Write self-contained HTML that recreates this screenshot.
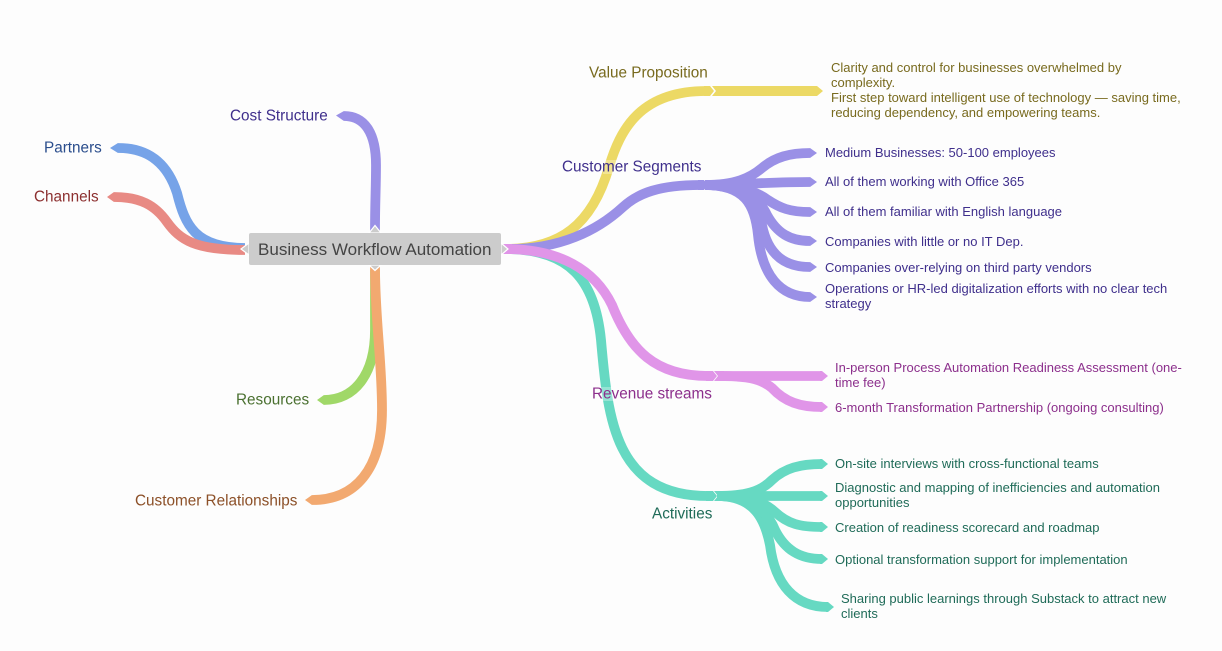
<!DOCTYPE html>
<html><head><meta charset="utf-8"><style>
html,body{margin:0;padding:0;background:#fdfdfd;width:1222px;height:651px;overflow:hidden}
svg{display:block}
text{font-family:"Liberation Sans",Arial,sans-serif}
.b{font-size:15.3px}
.l{font-size:13px}
path{fill:none;stroke-width:9.8}
</style></head><body>
<svg width="1222" height="651" viewBox="0 0 1222 651" xmlns="http://www.w3.org/2000/svg">
<rect width="1222" height="651" fill="#fdfdfd"/>
<g id="left">
<path stroke="#9a90e6" d="M375 232 C375 200 376 190 376 165 C376 132 364 116 344 116"/>
<polygon fill="#9a90e6" points="336,115.500 344,111 344,121"/>
<path stroke="#76a3e8" d="M245 248 C195 248 185 225 177 193 C168 165 150 148 118 148"/>
<polygon fill="#76a3e8" points="110,148 118,143 118,153"/>
<path stroke="#e88a84" d="M245 250 C195 250 180 240 167 222 C155 205 140 197 114 197"/>
<polygon fill="#e88a84" points="107,197 114,192 114,202"/>
<path stroke="#a0d868" d="M375 270 V330 C375 375 354 400 324 400"/>
<polygon fill="#a0d868" points="317,400 324,395 324,405"/>
<path stroke="#f2a970" d="M375 266 C375 320 382 360 382 410 C382 470 355 500 312 500"/>
<polygon fill="#f2a970" points="305,500 312,495 312,505"/>
</g>
<g id="right">
<path stroke="#ecd965" d="M505 249 C560 249 592 225 609 167 C620 130 640 91 706 91"/>
<polygon fill="#ecd965" points="704,86 710,86 714,91 710,96 704,96"/>
<polygon fill="#ecd965" points="712,86 817,86 823,91 817,96 712,96 716,91"/>
<path stroke="#66d9c2" d="M505 249 C570 249 595 280 601 340 C608 420 615 496 708 496"/>
<polygon fill="#66d9c2" points="706,491 713,491 717,496 713,501 706,501"/>
<path stroke="#9a90e6" d="M505 249 C560 250 598 230 623 207 C638 193 660 185 700 185"/>
<polygon fill="#9a90e6" points="698,180 704,180 708,185 704,190 698,190"/>
<path stroke="#e095e8" d="M505 249 C560 249 595 270 612 305 C630 350 655 376 708 376"/>
<polygon fill="#e095e8" points="706,371 713,371 717,376 713,381 706,381"/>
</g>
<g id="cs" stroke="#9a90e6">
<path d="M705 185 C745 185 755 205 758 235 C762 275 780 297 810 297"/>
<path d="M705 185 C745 185 757 205 762 225 C768 255 785 267 810 267"/>
<path d="M705 185 C745 185 760 200 767 215 C777 233 790 241 810 241"/>
<path d="M705 185 C735 185 755 190 768 200 C780 208 790 212 810 212"/>
<path d="M705 185 C730 185 770 182 810 182"/>
<path d="M705 185 C735 185 750 178 762 168 C775 157 790 153 810 153"/>
</g>
<g fill="#9a90e6">
<polygon points="705,180 714,180 714,190 705,190 709,185"/>
<polygon points="810,148 817,153 810,158"/>
<polygon points="810,177 817,182 810,187"/>
<polygon points="810,207 817,212 810,217"/>
<polygon points="810,236 817,241 810,246"/>
<polygon points="810,262 817,267 810,272"/>
<polygon points="810,292 817,297 810,302"/>
</g>
<g stroke="#e095e8">
<path d="M718 376 H822"/>
<path d="M718 376 C745 376 760 378 772 388 C785 402 800 407 822 407"/>
</g>
<g fill="#e095e8">
<polygon points="714,371 724,371 724,381 714,381 718,376"/>
<polygon points="820,371 822,371 828,376 822,381 820,381"/>
<polygon points="820,402 822,402 828,407 822,412 820,412"/>
</g>
<g stroke="#66d9c2">
<path d="M717 496 C755 496 765 520 770 545 C775 585 795 607 828 607"/>
<path d="M717 496 C750 496 767 510 775 530 C785 550 800 559 822 559"/>
<path d="M717 496 C745 496 762 500 775 512 C788 524 800 527 822 527"/>
<path d="M717 496 H822"/>
<path d="M717 496 C745 496 760 492 772 480 C785 468 800 464 822 464"/>
</g>
<g fill="#66d9c2">
<polygon points="714,491 724,491 724,501 714,501 718,496"/>
<polygon points="820,459 822,459 828,464 822,469 820,469"/>
<polygon points="820,491 822,491 828,496 822,501 820,501"/>
<polygon points="820,522 822,522 828,527 822,532 820,532"/>
<polygon points="820,554 822,554 828,559 822,564 820,564"/>
<polygon points="826,602 828,602 834,607 828,612 826,612"/>
</g>
<polygon fill="#e095e8" points="503,244 512,244 512,254 503,254 508,249"/>
<rect x="603" y="160" width="20" height="14" fill="#fff" opacity=".3"/>
<rect x="598" y="387" width="20" height="14" fill="#fff" opacity=".3"/>
<g fill="#cccccc" stroke="#ffffff" stroke-width="1.200">
<polygon points="369,233 375,225.500 381,233"/>
<polygon points="369,265 375,270.500 381,265"/>
<polygon points="249,243 241,249 249,255"/>
<polygon points="501,243 508,249 501,255"/>
</g>
<rect x="249" y="233" width="252" height="32" rx="2" fill="#cccccc"/>
<text x="258" y="255" font-size="17.050" fill="#444444">Business Workflow Automation</text>
<text class="b" x="230" y="120.500" fill="#3f2f8c">Cost Structure</text>
<text class="b" x="44" y="152.500" fill="#2a4d8c">Partners</text>
<text class="b" x="34" y="201.500" fill="#8c2f2f">Channels</text>
<text class="b" x="236" y="404.500" fill="#4a7030">Resources</text>
<text class="b" x="135" y="505.500" fill="#8c5028">Customer Relationships</text>
<text class="b" x="589" y="77.500" fill="#786a1e">Value Proposition</text>
<text class="b" x="562" y="171.500" fill="#3f2f8c">Customer Segments</text>
<text class="b" x="592" y="398.500" fill="#8c2f8c">Revenue streams</text>
<text class="b" x="652" y="518.500" fill="#1f6b58">Activities</text>
<g fill="#786a1e">
<text class="l" x="831" y="72">Clarity and control for businesses overwhelmed by</text>
<text class="l" x="831" y="87">complexity.</text>
<text class="l" x="831" y="102">First step toward intelligent use of technology — saving time,</text>
<text class="l" x="831" y="117">reducing dependency, and empowering teams.</text>
</g>
<g fill="#3f2f8c">
<text class="l" x="825" y="157">Medium Businesses: 50-100 employees</text>
<text class="l" x="825" y="186">All of them working with Office 365</text>
<text class="l" x="825" y="216">All of them familiar with English language</text>
<text class="l" x="825" y="246">Companies with little or no IT Dep.</text>
<text class="l" x="825" y="272">Companies over-relying on third party vendors</text>
<text class="l" x="825" y="293">Operations or HR-led digitalization efforts with no clear tech</text>
<text class="l" x="825" y="308">strategy</text>
</g>
<g fill="#8c2f8c">
<text class="l" x="835" y="372">In-person Process Automation Readiness Assessment (one-</text>
<text class="l" x="835" y="387">time fee)</text>
<text class="l" x="835" y="412">6-month Transformation Partnership (ongoing consulting)</text>
</g>
<g fill="#1f6b58">
<text class="l" x="835" y="468">On-site interviews with cross-functional teams</text>
<text class="l" x="835" y="492">Diagnostic and mapping of inefficiencies and automation</text>
<text class="l" x="835" y="507">opportunities</text>
<text class="l" x="835" y="532">Creation of readiness scorecard and roadmap</text>
<text class="l" x="835" y="564">Optional transformation support for implementation</text>
<text class="l" x="841" y="603">Sharing public learnings through Substack to attract new</text>
<text class="l" x="841" y="618">clients</text>
</g>
</svg>
</body></html>
